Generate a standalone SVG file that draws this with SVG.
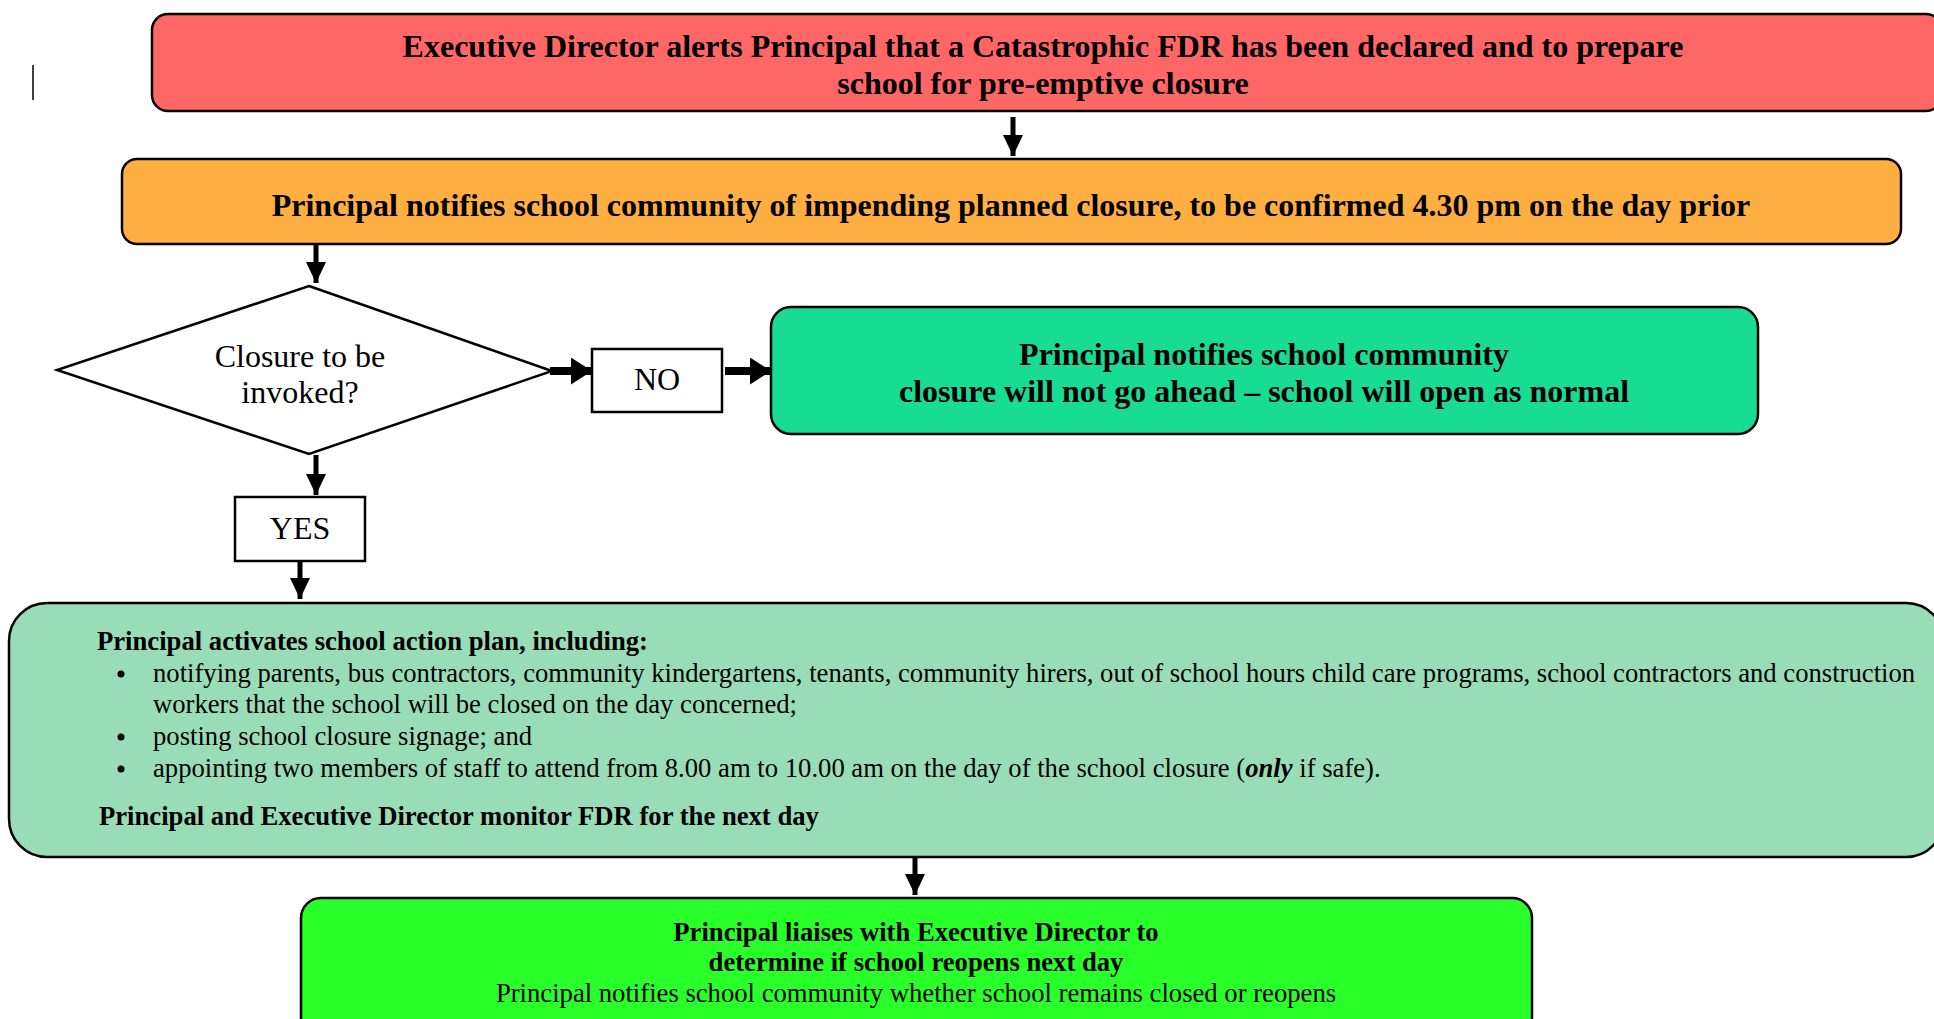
<svg xmlns="http://www.w3.org/2000/svg" width="1934" height="1019" viewBox="0 0 1934 1019">
<style>
.box{stroke:#000;stroke-width:2.5}
.t{font-family:"Liberation Serif","Times New Roman",serif;fill:#000}
.b{font-weight:bold}
.c{text-anchor:middle}
.ln{stroke:#000;fill:none}
.big{font-size:32px}
.med{font-size:26.67px}
</style>
<defs>
<marker id="ahv" markerUnits="userSpaceOnUse" markerWidth="22" markerHeight="22" refX="21" refY="10" orient="auto">
<path d="M0,0 L21,10 L0,20 Z" fill="#000"/>
</marker>
<marker id="ahh" markerUnits="userSpaceOnUse" markerWidth="22" markerHeight="28" refX="21" refY="13.5" orient="auto">
<path d="M0,0 L21,13.5 L0,27 Z" fill="#000"/>
</marker>
</defs>
<rect width="1934" height="1019" fill="#fff"/>
<line x1="33" y1="65" x2="33" y2="100" stroke="#000" stroke-width="1.5"/>

<g id="connectors">
<line class="ln" x1="1013" y1="117" x2="1013" y2="156" stroke-width="5" marker-end="url(#ahv)"/>
<line class="ln" x1="316" y1="244" x2="316" y2="283" stroke-width="5" marker-end="url(#ahv)"/>
<line class="ln" x1="550" y1="371" x2="592" y2="371" stroke-width="8" marker-end="url(#ahh)"/>
<line class="ln" x1="725" y1="371" x2="771" y2="371" stroke-width="8" marker-end="url(#ahh)"/>
<line class="ln" x1="316" y1="455" x2="316" y2="495" stroke-width="5" marker-end="url(#ahv)"/>
<line class="ln" x1="300" y1="562" x2="300" y2="599" stroke-width="5" marker-end="url(#ahv)"/>
<line class="ln" x1="915" y1="857" x2="915" y2="895" stroke-width="5" marker-end="url(#ahv)"/>
</g>

<g id="alert">
<rect class="box" x="152" y="14" width="1790" height="97" rx="16" fill="#FF6666"/>
<text class="t b c big" x="1043" y="57">Executive Director alerts Principal that a Catastrophic FDR has been declared and to prepare</text>
<text class="t b c big" x="1043" y="94">school for pre-emptive closure</text>
</g>

<g id="notify">
<rect class="box" x="122" y="159" width="1779" height="85" rx="15" fill="#FFAF42"/>
<text class="t b c big" x="1011" y="216">Principal notifies school community of impending planned closure, to be confirmed 4.30 pm on the day prior</text>
</g>

<g id="decision">
<polygon class="box" points="309,286 552,371 309,454 57,370" fill="#fff" stroke-width="2"/>
<text class="t c big" x="300" y="367">Closure to be</text>
<text class="t c big" x="300" y="403">invoked?</text>
</g>

<g id="no">
<rect class="box" x="592" y="349" width="130" height="63" fill="#fff" stroke-width="2"/>
<text class="t c big" x="657" y="390">NO</text>
</g>

<g id="open">
<rect class="box" x="771" y="307" width="987" height="127" rx="20" fill="#19DC94"/>
<text class="t b c big" x="1264" y="365">Principal notifies school community</text>
<text class="t b c big" x="1264" y="402">closure will not go ahead – school will open as normal</text>
</g>

<g id="yes">
<rect class="box" x="235" y="497" width="130" height="64" fill="#fff" stroke-width="2"/>
<text class="t c big" x="300" y="539">YES</text>
</g>

<g id="action">
<rect class="box" x="9" y="603" width="1935" height="254" rx="38" fill="#99DDB8"/>
<text class="t b med" x="97" y="650">Principal activates school action plan, including:</text>
<circle cx="121" cy="674" r="3.5" fill="#000"/>
<text class="t med" x="153" y="682">notifying parents, bus contractors, community kindergartens, tenants, community hirers, out of school hours child care programs, school contractors and construction</text>
<text class="t med" x="153" y="713">workers that the school will be closed on the day concerned;</text>
<circle cx="121" cy="737" r="3.5" fill="#000"/>
<text class="t med" x="153" y="745">posting school closure signage; and</text>
<circle cx="121" cy="769" r="3.5" fill="#000"/>
<text class="t med" x="153" y="777">appointing two members of staff to attend from 8.00 am to 10.00 am on the day of the school closure (<tspan font-weight="bold" font-style="italic">only</tspan> if safe).</text>
<text class="t b med" x="99" y="825">Principal and Executive Director monitor FDR for the next day</text>
</g>

<g id="liaise">
<rect class="box" x="301" y="898" width="1231" height="140" rx="20" fill="#29FF29"/>
<text class="t b c med" x="916" y="941">Principal liaises with Executive Director to</text>
<text class="t b c med" x="916" y="971">determine if school reopens next day</text>
<text class="t c med" x="916" y="1002">Principal notifies school community whether school remains closed or reopens</text>
</g>
</svg>
